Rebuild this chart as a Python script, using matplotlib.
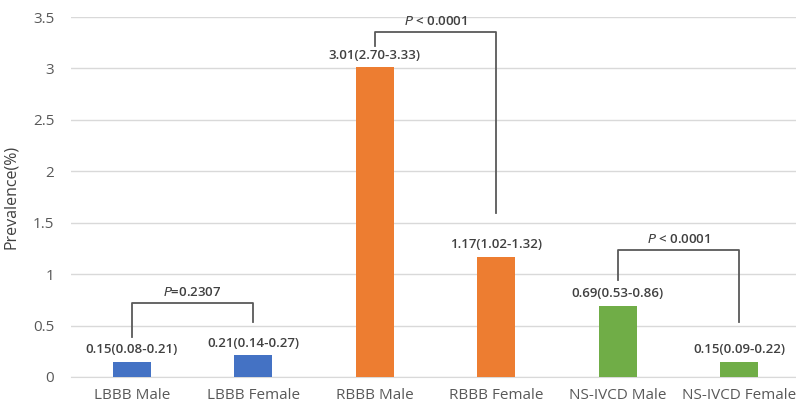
import matplotlib
matplotlib.use("Agg")
import matplotlib.pyplot as plt

categories = ["LBBB Male", "LBBB Female", "RBBB Male", "RBBB Female", "NS-IVCD Male", "NS-IVCD Female"]
values = [0.15, 0.21, 3.01, 1.17, 0.69, 0.15]
ci_labels = ["0.15(0.08-0.21)", "0.21(0.14-0.27)", "3.01(2.70-3.33)",
             "1.17(1.02-1.32)", "0.69(0.53-0.86)", "0.15(0.09-0.22)"]
colors = ["#4472C4", "#4472C4", "#ED7D31", "#ED7D31", "#70AD47", "#70AD47"]
yticks = [0, 0.5, 1, 1.5, 2, 2.5, 3, 3.5]
ytick_labels = ["0", "0.5", "1", "1.5", "2", "2.5", "3", "3.5"]

# brackets: (left idx, right idx, left bottom, top, right bottom, p-value text)
brackets = [
    (0, 1, 0.39, 0.72, 0.53, "=0.2307"),
    (2, 3, 3.22, 3.35, 1.59, " < 0.0001"),
    (4, 5, 0.94, 1.23, 0.53, " < 0.0001"),
]

plt.rcParams['font.family'] = ['Open Sans', 'DejaVu Sans']

fig = plt.figure(figsize=(7.96, 4.09), dpi=100)
ax = fig.add_axes([71/796, 32/409, 729/796, 360/409])

x = list(range(len(categories)))
ax.bar(x, values, width=0.31, color=colors, zorder=3)

for xi, v, lab in zip(x, values, ci_labels):
    ax.annotate(lab, (xi, v), xytext=(0, 4), textcoords="offset points",
                ha="center", va="bottom", fontsize=9.5, color="#404040",
                fontweight="semibold")

for li, ri, lb, top, rb, ptxt in brackets:
    ax.plot([li, li, ri, ri], [lb, top, top, rb], color="#595959", lw=1.3, zorder=4)
    ax.text((li + ri) / 2, top + 0.04, r"$\it{P}$" + ptxt, ha="center", va="bottom",
            fontsize=9.5, color="#404040", fontweight="semibold")

ax.set_xlim(-0.5, len(categories) - 0.5)
ax.set_ylim(0, 3.5)
ax.set_yticks(yticks)
ax.set_yticklabels(ytick_labels)
ax.set_xticks(x)
ax.set_xticklabels(categories)
ax.tick_params(axis="both", length=0, colors="#595959", labelsize=11)
ax.tick_params(axis="x", pad=8)
ax.tick_params(axis="y", pad=12)
ax.grid(axis="y", color="#D9D9D9", lw=1, zorder=0)
for s in ["top", "right", "left"]:
    ax.spines[s].set_visible(False)
ax.spines["bottom"].set_color("#D9D9D9")
ax.set_ylabel("Prevalence(%)", fontsize=11.5, color="#404040", labelpad=10)

fig.savefig("out.png", dpi=100)
